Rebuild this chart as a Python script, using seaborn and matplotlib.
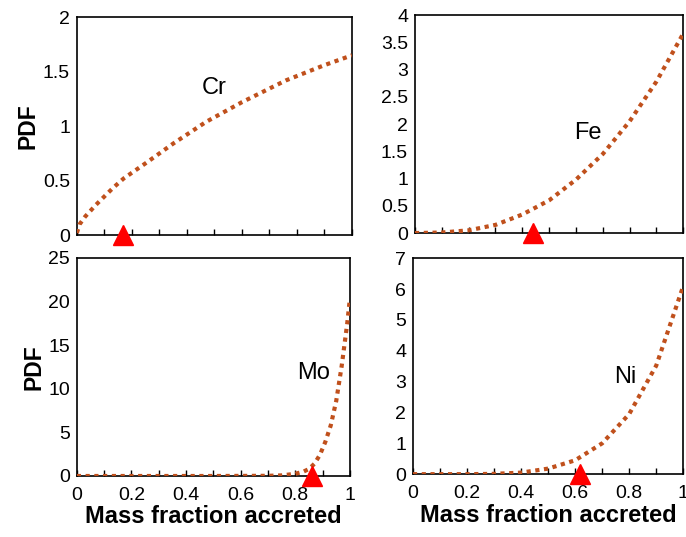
import numpy as np
import pandas as pd
import matplotlib
matplotlib.use("Agg")
import matplotlib.pyplot as plt
import seaborn as sns

# values
x_cr = [0.0, 0.01, 0.03, 0.07, 0.13, 0.17, 0.25, 0.35, 0.47, 0.6, 0.76, 0.9, 1.0]
pdf_cr = [0.02, 0.1, 0.17, 0.28, 0.43, 0.52, 0.66, 0.84, 1.04, 1.22, 1.42, 1.56, 1.65]

x_fe = [0.0, 0.1, 0.2, 0.3, 0.4, 0.5, 0.6, 0.7, 0.8, 0.9, 1.0]
pdf_fe = [0.0, 0.01, 0.05, 0.15, 0.34, 0.6, 0.98, 1.45, 2.05, 2.78, 3.66]

x_mo = [0.0, 0.5, 0.7, 0.75, 0.8, 0.83, 0.85, 0.87, 0.89, 0.91, 0.93, 0.95, 0.97, 0.99, 1.0]
pdf_mo = [0.0, 0.0, 0.02, 0.07, 0.25, 0.5, 0.8, 1.4, 2.4, 3.9, 5.8, 8.6, 12.6, 17.4, 20.3]

x_ni = [0.0, 0.1, 0.2, 0.3, 0.4, 0.5, 0.6, 0.7, 0.8, 0.9, 1.0]
pdf_ni = [0.0, 0.0, 0.0, 0.01, 0.05, 0.18, 0.45, 1.0, 1.95, 3.52, 6.1]

elements = ["Cr", "Fe", "Mo", "Ni"]
marker_x = [0.168, 0.44, 0.862, 0.617]
label_pos = [(0.50, 1.35), (0.646, 1.83), (0.868, 11.8), (0.784, 3.15)]
y_max = [2, 4, 25, 7]
y_step = [0.5, 0.5, 5, 1]

curves = [(x_cr, pdf_cr), (x_fe, pdf_fe), (x_mo, pdf_mo), (x_ni, pdf_ni)]

# axes rectangles in figure fractions [left, bottom, width, height]
rects = [
    [0.112, 0.562, 0.401, 0.406],
    [0.605, 0.566, 0.391, 0.406],
    [0.112, 0.1136, 0.398, 0.406],
    [0.602, 0.117, 0.394, 0.402],
]

sns.set_style("white")
plt.rcParams["font.family"] = ["Liberation Sans", "DejaVu Sans"]
plt.rcParams["text.color"] = "black"
plt.rcParams["axes.labelcolor"] = "black"
plt.rcParams["xtick.color"] = "black"
plt.rcParams["ytick.color"] = "black"

LINE_COLOR = "#C0501C"


def fmt(v):
    return f"{v:g}"


fig = plt.figure(figsize=(6.86, 5.37), dpi=100)

for i, name in enumerate(elements):
    ax = fig.add_axes(rects[i])
    xs, ys = curves[i]
    df = pd.DataFrame({"x": xs, "pdf": ys})
    sns.lineplot(data=df, x="x", y="pdf", ax=ax, color=LINE_COLOR,
                 linewidth=3.0, linestyle=(0, (1, 1.1)), zorder=3)
    ax.plot([marker_x[i]], [0], marker="^", color="red", markersize=14,
            linestyle="none", clip_on=False, zorder=5)
    ax.text(label_pos[i][0], label_pos[i][1], name, ha="center", va="center",
            fontsize=17)

    ax.set_xlim(0, 1)
    ax.set_ylim(0, y_max[i])
    yt = np.arange(0, y_max[i] + y_step[i] / 2, y_step[i])
    ax.set_yticks(yt)
    ax.set_yticklabels([fmt(v) for v in yt], fontsize=14)
    ax.set_xticks(np.arange(0, 1.01, 0.1))
    if i >= 2:
        ax.set_xticklabels([fmt(round(v, 1)) if j % 2 == 0 else ""
                            for j, v in enumerate(np.arange(0, 1.01, 0.1))],
                           fontsize=14)
        ax.set_xlabel("Mass fraction accreted", fontsize=17,
                      fontweight="bold", labelpad=1)
    else:
        ax.set_xticklabels([])
        ax.set_xlabel("")
    ax.tick_params(axis="x", bottom=True, direction="in", length=4, width=1,
                   pad=8)
    ax.tick_params(axis="y", left=False, length=0, pad=5)
    if i % 2 == 0:
        ax.set_ylabel("PDF", fontsize=16.5, fontweight="bold", labelpad=2)
    else:
        ax.set_ylabel("")
    for s in ax.spines.values():
        s.set_visible(True)
        s.set_color("black")
        s.set_linewidth(1.2)

fig.savefig("out.png", dpi=100)
